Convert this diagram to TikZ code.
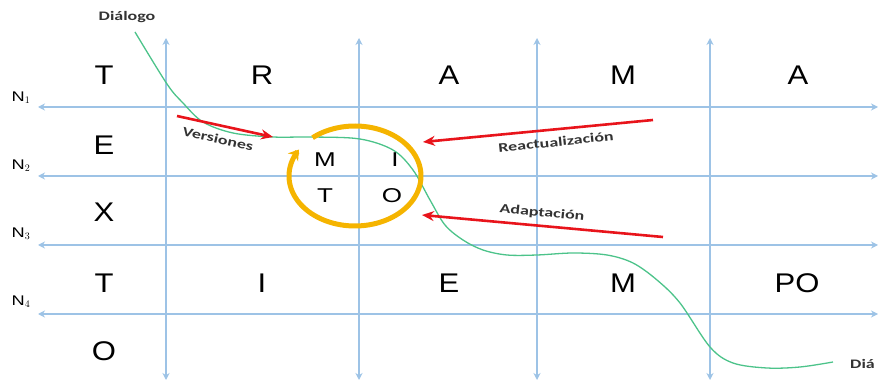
\documentclass[tikz,border=0pt]{standalone}
\usepackage{fontspec}
\setmainfont{Liberation Sans}
\newfontfamily\bigfam[FakeStretch=1.15]{Liberation Sans}
\newfontfamily\midfam[FakeStretch=1.3]{Liberation Sans}
\newfontfamily\lblfam[FakeStretch=1.38]{Carlito}
\usetikzlibrary{arrows.meta}
\definecolor{gridblue}{HTML}{9DC3E6}
\definecolor{arrred}{HTML}{E8141B}
\definecolor{curvegreen}{HTML}{4CC38A}
\definecolor{ringorange}{HTML}{F5B400}
\tikzset{
  gridline/.style={draw=gridblue, line width=2.4pt, {Stealth[length=7pt,width=7pt]}-{Stealth[length=7pt,width=7pt]}},
  bigletter/.style={inner sep=0pt, font=\bigfam\fontsize{27}{27}\selectfont},
  mitoletter/.style={inner sep=0pt, font=\midfam\fontsize{20}{20}\selectfont},
  nlabel/.style={inner sep=0pt, font=\midfam\fontsize{14}{14}\selectfont},
  smalllabel/.style={inner sep=0pt, font=\lblfam\bfseries\fontsize{13}{13}\selectfont, text=black!80},
  redarrow/.style={draw=arrred, line width=2.6pt, -{Stealth[length=12pt,width=10pt]}},
}
\begin{document}
\begin{tikzpicture}[x=1pt,y=-1pt]
\useasboundingbox (0,0) rectangle (879,382);
% grid coordinates
\foreach \n/\x in {1/166,2/359,3/537,4/710}{
  \coordinate (vt\n) at (\x,38);
  \coordinate (vb\n) at (\x,380);
}
\foreach \n/\y in {1/107,2/176,3/245,4/314}{
  \coordinate (hl\n) at (38,\y);
  \coordinate (hr\n) at (878,\y);
}
\foreach \n in {1,2,3,4}{
  \draw[gridline] (vb\n) -- (vt\n);
  \draw[gridline] (hl\n) -- (hr\n);
}
% N labels
\node[nlabel] (n1) at (21,98) {N$_{1}$};
\node[nlabel] (n2) at (21,166) {N$_{2}$};
\node[nlabel] (n3) at (21,234) {N$_{3}$};
\node[nlabel] (n4) at (21,302) {N$_{4}$};
% big letters
\node[bigletter] (t1) at (104,75) {T};
\node[bigletter] (r1) at (262,75) {R};
\node[bigletter] (a1) at (449,75) {A};
\node[bigletter] (m1) at (623,75) {M};
\node[bigletter] (a2) at (798,75) {A};
\node[bigletter] (e2) at (104,145) {E};
\node[bigletter] (x3) at (104,212) {X};
\node[bigletter] (t4) at (104,283) {T};
\node[bigletter] (i4) at (262,283) {I};
\node[bigletter] (e4) at (449,283) {E};
\node[bigletter] (m4) at (623,283) {M};
\node[bigletter] (po4) at (797,283) {PO};
\node[bigletter] (o5) at (104,351) {O};
% green dialog curve
\draw[curvegreen, line width=1.3pt] plot[smooth, tension=0.55] coordinates {
  (135,32) (167,84) (183,103) (203,122) (233,133) (273,137) (313,137) (360,139)
  (393,150) (413,170) (430,200) (445,225) (463,240) (483,250) (507,255) (537,255)
  (573,253) (607,255) (633,263) (657,280) (680,303) (710,347) (733,363) (767,368)
  (800,367) (833,362)};
\node[smalllabel] (dialogo) at (127,17) {Diálogo};
\node[smalllabel, anchor=west] (dia) at (850,364) {Diá};
% orange ring
\draw[ringorange, line width=5pt, -{Stealth[length=10pt,width=13pt]}]
  plot[domain=-130:212, samples=120] ({355+66*cos(\x)}, {176+50*sin(\x)});
\node[mitoletter] (mm) at (325,160) {M};
\node[mitoletter] (mi) at (395,160) {I};
\node[mitoletter] (mt) at (325,196) {T};
\node[mitoletter] (mo) at (392,196) {O};
% red arrows
\coordinate (vs) at (177,116);
\coordinate (ve) at (273,137);
\coordinate (rs) at (653,120);
\coordinate (re) at (423,142);
\coordinate (as) at (663,237);
\coordinate (ae) at (422,215);
\draw[redarrow] (vs) -- (ve);
\draw[redarrow] (rs) -- (re);
\draw[redarrow] (as) -- (ae);
\node[smalllabel, rotate=-13] (versiones) at (218,139) {Versiones};
\node[smalllabel, rotate=6] (reactual) at (556,142) {Reactualización};
\node[smalllabel, rotate=-6] (adapt) at (542,213) {Adaptación};
\end{tikzpicture}
\end{document}
